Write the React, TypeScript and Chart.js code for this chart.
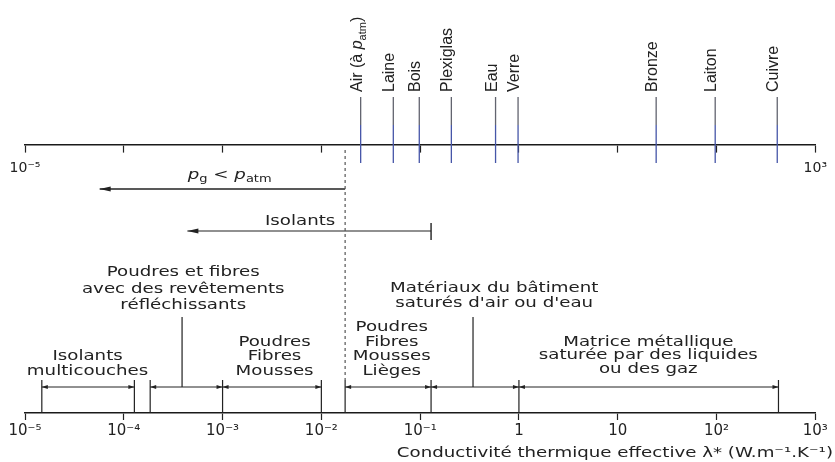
import React, { useEffect, useRef } from 'react';
import { Chart, registerables } from 'chart.js';

Chart.register(...registerables);

// ---------------- data ----------------
const axisMin = 1e-5;
const axisMax = 1e3;
const decadeTicks = [1e-5, 1e-4, 1e-3, 1e-2, 1e-1, 1, 10, 100, 1000];
const bottomTickLabels = ['10⁻⁵', '10⁻⁴', '10⁻³', '10⁻²', '10⁻¹', '1', '10', '10²', '10³'];
const topTickLabels = ['10⁻⁵', '', '', '', '', '', '', '', '10³'];

// materials on the upper scale (~ = italic, _ = subscript)
const materialLabels = ['Air (à ~p~_atm_)', 'Laine', 'Bois', 'Plexiglas', 'Eau', 'Verre', 'Bronze', 'Laiton', 'Cuivre'];
const materialValues = [0.025, 0.0535, 0.098, 0.207, 0.58, 0.98, 24.5, 97, 412];

// limit of air at atmospheric pressure (dashed line)
const airLimit = 0.0174;

// arrow "p_g < p_atm"
const pressureLabel = '~p~_g_ < ~p~_atm_';
const pressureArrow = [airLimit, 5.7e-5];
const pressureLabelAt = 1.18e-3;

// arrow "Isolants"
const insulatorLabel = 'Isolants';
const insulatorArrow = [0.129, 4.4e-4];
const insulatorLabelAt = 6.1e-3;

// material classes on the lower scale
const rangeStarts = [1.48e-5, 1.85e-4, 1e-3, airLimit, 0.129, 1];
const rangeEnds = [1.28e-4, 1e-3, 1e-2, 0.129, 1, 424];
const rangeLabels = [
  ['Isolants', 'multicouches'],
  ['Poudres et fibres', 'avec des revêtements', 'réfléchissants'],
  ['Poudres', 'Fibres', 'Mousses'],
  ['Poudres', 'Fibres', 'Mousses', 'Lièges'],
  ['Matériaux du bâtiment', "saturés d'air ou d'eau"],
  ['Matrice métallique', 'saturée par des liquides', 'ou des gaz'],
];
const rangeLabelCenters = [4.3e-5, 4.0e-4, 3.36e-3, 0.0516, 0.562, 20.4];
const rangePointers = [3.89e-4, 0.343];

const axisTitle = 'Conductivité thermique effective λ* (W.m⁻¹.K⁻¹)';

// ---------------- layout (vertical positions, y scale = pixels) ----------------
const Y = {
  topAxis: 145,
  matTop: 97,
  matMid: 125,
  matBottom: 163,
  labelStart: 92,
  dashTop: 150,
  dashBottom: 380,
  pressure: 189,
  pressureText: 175,
  insul: 231,
  insulText: 221,
  insulBarTop: 223,
  insulBarBottom: 240,
  rangeBarTop: 380,
  rangeLine: 387,
  pointerTop: 317,
  axis: 413,
  title: 453,
};
const rangeLabelTops = [356, 272.5, 342, 327.5, 288, 342];
const rangeLineGaps = [15, 16.5, 14.5, 14.5, 15.5, 13.5];

const TOP_FONT = '"Liberation Sans", Arial, sans-serif';
const BOT_FONT = '"DejaVu Sans", sans-serif';
const SX = 1.3;
const INK = '#222';

// ---------------- helpers ----------------
type Part = { t: string; italic: boolean; sub: boolean };
function parseRich(s: string): Part[] {
  const parts: Part[] = [];
  let italic = false;
  let sub = false;
  let buf = '';
  const flush = () => {
    if (buf) parts.push({ t: buf, italic, sub });
    buf = '';
  };
  for (const ch of s) {
    if (ch === '~') { flush(); italic = !italic; }
    else if (ch === '_') { flush(); sub = !sub; }
    else buf += ch;
  }
  flush();
  return parts;
}

function drawRich(ctx: CanvasRenderingContext2D, text: string, x: number, y: number,
  align: 'left' | 'center' | 'right', size: number, family: string, sx: number) {
  const parts = parseRich(text);
  const subSize = Math.round(size * 0.68);
  const fontOf = (p: Part) => `${p.italic ? 'italic ' : ''}${p.sub ? subSize : size}px ${family}`;
  const widths = parts.map((p) => { ctx.font = fontOf(p); return ctx.measureText(p.t).width; });
  const total = widths.reduce((a, b) => a + b, 0);
  ctx.save();
  ctx.translate(x, y);
  ctx.scale(sx, 1);
  let cx = align === 'left' ? 0 : align === 'center' ? -total / 2 : -total;
  ctx.textAlign = 'left';
  parts.forEach((p, i) => {
    ctx.font = fontOf(p);
    ctx.fillText(p.t, cx, p.sub ? size * 0.3 : 0);
    cx += widths[i];
  });
  ctx.restore();
}

function arrowHead(ctx: CanvasRenderingContext2D, tx: number, ty: number, ox: number, oy: number, len: number, hw: number) {
  const a = Math.atan2(ty - oy, tx - ox);
  const c = Math.cos(a), s = Math.sin(a);
  const bx = tx - len * c, by = ty - len * s;
  ctx.beginPath();
  ctx.moveTo(tx, ty);
  ctx.lineTo(bx - hw * s, by + hw * c);
  ctx.lineTo(bx + hw * s, by - hw * c);
  ctx.closePath();
  ctx.fill();
}

const annotationPlugin = {
  id: 'annotations',
  afterDraw(chart: any) {
    const ctx: CanvasRenderingContext2D = chart.ctx;
    const xs = chart.scales.x;
    const ys = chart.scales.y;
    const px = (v: number) => xs.getPixelForValue(v);
    const py = (v: number) => ys.getPixelForValue(v);
    ctx.save();
    ctx.fillStyle = INK;
    // arrow heads
    chart.data.datasets.forEach((ds: any, i: number) => {
      if (!ds.arrowHeads) return;
      const pts = chart.getDatasetMeta(i).data;
      const [len, hw] = ds.arrowSize;
      if (ds.arrowHeads.includes('start')) arrowHead(ctx, pts[0].x, pts[0].y, pts[1].x, pts[1].y, len, hw);
      if (ds.arrowHeads.includes('end')) {
        const n = pts.length;
        arrowHead(ctx, pts[n - 1].x, pts[n - 1].y, pts[n - 2].x, pts[n - 2].y, len, hw);
      }
    });
    // rotated material labels
    ctx.textBaseline = 'alphabetic';
    materialValues.forEach((v, i) => {
      ctx.save();
      ctx.translate(px(v) + 1, py(Y.labelStart));
      ctx.rotate(-Math.PI / 2);
      drawRich(ctx, materialLabels[i], 0, 0, 'left', 16, TOP_FONT, 1);
      ctx.restore();
    });
    // horizontal labels
    ctx.textBaseline = 'middle';
    drawRich(ctx, pressureLabel, px(pressureLabelAt), py(Y.pressureText), 'center', 14, BOT_FONT, SX);
    drawRich(ctx, insulatorLabel, px(insulatorLabelAt), py(Y.insulText), 'center', 14, BOT_FONT, SX);
    rangeLabels.forEach((lines, i) => {
      lines.forEach((line, j) => {
        drawRich(ctx, line, px(rangeLabelCenters[i]), py(rangeLabelTops[i] + j * rangeLineGaps[i]), 'center', 14, BOT_FONT, SX);
      });
    });
    drawRich(ctx, axisTitle, 833, py(Y.title), 'right', 14, BOT_FONT, SX);
    ctx.restore();
  },
};

function seg(points: { x: number; y: number }[], extra: any = {}) {
  return {
    type: 'line',
    data: points,
    borderColor: INK,
    borderWidth: 1,
    pointRadius: 0,
    pointHoverRadius: 0,
    fill: false,
    tension: 0,
    clip: false,
    ...extra,
  };
}

function buildDatasets() {
  const ds: any[] = [];
  materialValues.forEach((v) => {
    ds.push(seg([{ x: v, y: Y.matTop }, { x: v, y: Y.matMid }, { x: v, y: Y.matBottom }], {
      borderWidth: 1.3,
      segment: { borderColor: (c: any) => (c.p0DataIndex === 0 ? '#62646f' : '#4656a8') },
    }));
  });
  ds.push(seg([{ x: airLimit, y: Y.dashTop }, { x: airLimit, y: Y.dashBottom }], { borderDash: [3, 3], borderColor: '#555', borderWidth: 1.2 }));
  ds.push(seg([{ x: pressureArrow[1], y: Y.pressure }, { x: pressureArrow[0], y: Y.pressure }], { borderWidth: 1.4, arrowHeads: ['start'], arrowSize: [11, 2.6] }));
  ds.push(seg([{ x: insulatorArrow[1], y: Y.insul }, { x: insulatorArrow[0], y: Y.insul }], { borderWidth: 1.2, arrowHeads: ['start'], arrowSize: [11, 2.6] }));
  ds.push(seg([{ x: insulatorArrow[0], y: Y.insulBarTop }, { x: insulatorArrow[0], y: Y.insulBarBottom }], { borderWidth: 1.4 }));
  const bounds = Array.from(new Set([...rangeStarts, ...rangeEnds]));
  bounds.forEach((b) => {
    ds.push(seg([{ x: b, y: Y.rangeBarTop }, { x: b, y: Y.axis }], { borderWidth: 1.2 }));
  });
  rangeStarts.forEach((s, i) => {
    ds.push(seg([{ x: s, y: Y.rangeLine }, { x: rangeEnds[i], y: Y.rangeLine }], { borderWidth: 1, arrowHeads: ['start', 'end'], arrowSize: [6, 2] }));
  });
  rangePointers.forEach((p) => {
    ds.push(seg([{ x: p, y: Y.pointerTop }, { x: p, y: Y.rangeLine }], { borderWidth: 1.2 }));
  });
  return ds;
}

const setDecades = (scale: any) => {
  scale.ticks = decadeTicks.map((v) => ({ value: v }));
};

export default function App() {
  const ref = useRef<HTMLCanvasElement | null>(null);
  useEffect(() => {
    if (!ref.current) return;
    const chart = new Chart(ref.current, {
      type: 'line',
      data: { datasets: buildDatasets() },
      options: {
        animation: false,
        responsive: false,
        devicePixelRatio: 1,
        events: [],
        layout: { padding: { left: 25, right: 15, top: 0, bottom: 0 } },
        plugins: { legend: { display: false }, tooltip: { enabled: false } },
        scales: {
          x: {
            type: 'logarithmic',
            min: axisMin,
            max: axisMax,
            position: 'bottom',
            afterBuildTicks: setDecades,
            afterFit: (s: any) => { s.height = 49; },
            ticks: {
              callback: (_v: any, i: number) => bottomTickLabels[i],
              font: { family: 'DejaVu Sans', size: 15 },
              color: INK,
              padding: 2,
              autoSkip: false,
              maxRotation: 0,
              minRotation: 0,
            },
            grid: { drawOnChartArea: false, drawTicks: true, tickLength: 7, tickColor: INK, tickWidth: 1.2 },
            border: { display: true, color: '#1a1a1a', width: 1.6 },
          },
          x2: {
            type: 'logarithmic',
            axis: 'x',
            min: axisMin,
            max: axisMax,
            position: { y: Y.topAxis },
            afterBuildTicks: setDecades,
            afterFit: (s: any) => { s.height = 0; },
            ticks: {
              callback: (_v: any, i: number) => topTickLabels[i],
              font: { family: 'DejaVu Sans', size: 14 },
              color: INK,
              padding: 8,
              autoSkip: false,
              maxRotation: 0,
              minRotation: 0,
            },
            grid: { drawOnChartArea: false, drawTicks: true, tickLength: 7, tickColor: INK, tickWidth: 1.2 },
            border: { display: true, color: '#1a1a1a', width: 1.6 },
          },
          y: { type: 'linear', min: 0, max: Y.axis, reverse: true, display: false },
        },
      } as any,
      plugins: [annotationPlugin],
    } as any);
    return () => chart.destroy();
  }, []);
  return (
    <div style={{ position: 'fixed', left: 0, top: 0, width: 835, height: 462, background: '#fff' }}>
      <canvas ref={ref} width={835} height={462} style={{ display: 'block' }} />
    </div>
  );
}
